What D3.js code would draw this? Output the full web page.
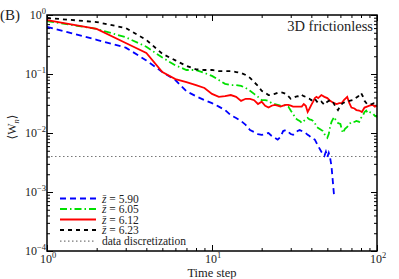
<!DOCTYPE html>
<html>
<head>
<meta charset="utf-8">
<script src="https://cdn.jsdelivr.net/npm/d3@7"></script>
<style>
  body { margin: 0; background: #fff; }
  text { font-family: "Liberation Serif", "DejaVu Serif", serif; fill: #222; }
</style>
</head>
<body>
<div id="chart"></div>
<script>
// time steps and mean values <W_n>
var blueT = [1,2,3,4,5,6,7,8,9,10,11,12,13,14,15,16,17,18,19,20,21,22,23,24,25,26,27,28,29,30,31,32,33,34,35,36,37,38,39,40,42,44,46,48,49,50,51,52,53,54,55];
var blueV = [0.63,0.38,0.28,0.17,0.108,0.079,0.051,0.042,0.036,0.032,0.028,0.0245,0.020,0.018,0.016,0.0137,0.0112,0.0104,0.0096,0.0093,0.0096,0.0100,0.0089,0.0083,0.0077,0.0086,0.0108,0.0112,0.0104,0.0096,0.0093,0.0100,0.0108,0.0112,0.0108,0.0104,0.0100,0.0093,0.0089,0.0083,0.0077,0.0060,0.0048,0.0041,0.0048,0.0039,0.0046,0.0038,0.0027,0.0015,0.00083];

var greenT = [1,2,3,4,5,6,7,8,9,10,11,12,13,14,15,16,17,18,19,20,21,22,23,24,25,26,27,28,29,30,31,32,33,34,35,36,37,38,39,40,41,42,43,44,46,47,48,50,51,52,53,55,56,58,60,62,64,66,68,70,73,75,78,80,82,84,86,88,90,93,95,97,100];
var greenV = [0.79,0.58,0.42,0.29,0.19,0.14,0.117,0.117,0.104,0.093,0.079,0.068,0.065,0.065,0.063,0.058,0.052,0.046,0.041,0.036,0.036,0.035,0.032,0.031,0.030,0.029,0.030,0.029,0.028,0.024,0.021,0.018,0.0167,0.016,0.0148,0.016,0.017,0.018,0.017,0.0167,0.016,0.0148,0.0127,0.0122,0.0112,0.0108,0.0096,0.0083,0.0096,0.0127,0.0154,0.0187,0.017,0.0148,0.0142,0.0100,0.0118,0.0127,0.0142,0.0154,0.0154,0.016,0.0154,0.018,0.0195,0.0227,0.024,0.0218,0.0227,0.0218,0.021,0.0195,0.0187];

var redT = [1,2,3,4,5,6,7,8,9,10,11,12,13,14,15,16,17,18,19,20,21,22,23,24,25,26,27,28,29,30,31,32,33,34,35,36,37,38,39,40,41,42,43,44,46,48,50,52,55,57,59,61,63,66,68,70,73,75,78,81,84,87,90,94,97,100];
var redV = [0.82,0.58,0.335,0.227,0.108,0.082,0.073,0.065,0.058,0.046,0.041,0.042,0.044,0.041,0.035,0.038,0.038,0.036,0.031,0.034,0.029,0.027,0.029,0.030,0.029,0.028,0.029,0.030,0.030,0.029,0.028,0.028,0.028,0.028,0.028,0.031,0.029,0.0227,0.026,0.030,0.034,0.039,0.041,0.039,0.044,0.041,0.039,0.035,0.032,0.031,0.032,0.032,0.036,0.041,0.032,0.027,0.026,0.0245,0.024,0.0227,0.027,0.028,0.029,0.030,0.028,0.029];

var blackT = [1,2,3,4,5,6,7,8,9,10,11,12,13,14,15,16,17,18,19,20,21,22,23,24,25,26,27,28,29,30,31,32,33,34,35,36,37,38,39,40,41,42,44,46,48,50,52,54,56,58,60,62,65,68,71,74,77,80,82,84,87,90,93,96,100];
var blackV = [0.89,0.76,0.60,0.377,0.22,0.17,0.137,0.12,0.117,0.117,0.112,0.112,0.112,0.108,0.104,0.096,0.086,0.073,0.063,0.052,0.048,0.044,0.044,0.046,0.048,0.049,0.048,0.046,0.042,0.038,0.039,0.041,0.042,0.041,0.044,0.042,0.041,0.039,0.038,0.036,0.039,0.038,0.032,0.034,0.030,0.034,0.036,0.034,0.028,0.0245,0.029,0.032,0.034,0.035,0.036,0.039,0.042,0.048,0.042,0.035,0.031,0.030,0.031,0.032,0.032];

var discretization = 0.004;

var seriesNames = ["5.90", "6.05", "6.12", "6.23"];
var xTicks = [1, 10, 100];
var xTickExp = ["0", "1", "2"];
var yTicks = [1e-4, 1e-3, 1e-2, 1e-1, 1];
var yTickExp = ["\u22124", "\u22123", "\u22122", "\u22121", "0"];

var chartW = 399, chartH = 279;
var plotL = 47, plotR = 377, plotT = 15, plotB = 251;

var svg = d3.select("#chart").append("svg")
    .attr("width", chartW)
    .attr("height", chartH);

var x = d3.scaleLog().domain([1, 100]).range([plotL, plotR]);
var y = d3.scaleLog().domain([1e-4, 1]).range([plotB, plotT]);

// minor ticks 2..9 in each decade
var xMinor = [], yMinor = [];
[1, 10].forEach(function(d) { for (var k = 2; k < 10; k++) xMinor.push(d * k); });
[1e-4, 1e-3, 1e-2, 1e-1].forEach(function(d) { for (var k = 2; k < 10; k++) yMinor.push(d * k); });

function addAxis(axisFn, scale, vals, size, tr) {
    svg.append("g")
        .attr("transform", tr)
        .call(axisFn(scale).tickValues(vals).tickSize(size).tickFormat(""))
        .call(function(g) { g.select(".domain").remove(); })
        .selectAll("line").attr("stroke", "#000").attr("stroke-width", 1);
}
addAxis(d3.axisBottom, x, xTicks, -6, "translate(0," + plotB + ")");
addAxis(d3.axisBottom, x, xMinor, -3, "translate(0," + plotB + ")");
addAxis(d3.axisTop, x, xTicks, -6, "translate(0," + plotT + ")");
addAxis(d3.axisTop, x, xMinor, -3, "translate(0," + plotT + ")");
addAxis(d3.axisLeft, y, yTicks, -6, "translate(" + plotL + ",0)");
addAxis(d3.axisLeft, y, yMinor, -3, "translate(" + plotL + ",0)");
addAxis(d3.axisRight, y, yTicks, -6, "translate(" + plotR + ",0)");
addAxis(d3.axisRight, y, yMinor, -3, "translate(" + plotR + ",0)");

// tick labels with superscripts
xTicks.forEach(function(t, i) {
    var tx = svg.append("text")
        .attr("x", x(t) + 1)
        .attr("y", 263)
        .attr("text-anchor", "middle")
        .style("font-size", "12px");
    tx.append("tspan").text("10");
    tx.append("tspan").attr("dy", -5).style("font-size", "8.5px").text(xTickExp[i]);
});
yTicks.forEach(function(t, i) {
    var ty = svg.append("text")
        .attr("x", plotL - 1)
        .attr("y", y(t) + 4)
        .attr("text-anchor", "end")
        .style("font-size", "12px");
    ty.append("tspan").text("10");
    ty.append("tspan").attr("dy", -5).style("font-size", "8.5px").text(yTickExp[i]);
});

// dotted data discretization line
svg.append("line")
    .attr("x1", plotL).attr("x2", plotR)
    .attr("y1", y(discretization)).attr("y2", y(discretization))
    .attr("stroke", "#777").attr("stroke-width", 1.2)
    .attr("stroke-dasharray", "1.5,2.5");

var styles = [
    { color: "#0000ff", dash: "6,4" },
    { color: "#00e000", dash: "7,3,1.5,3" },
    { color: "#ff0000", dash: null },
    { color: "#000000", dash: "4,4" }
];
var series = [
    { t: blueT, v: blueV },
    { t: greenT, v: greenV },
    { t: redT, v: redV },
    { t: blackT, v: blackV }
];

var line = d3.line()
    .x(function(d) { return x(d[0]); })
    .y(function(d) { return y(d[1]); });

series.forEach(function(s, i) {
    var pts = s.t.map(function(t, j) { return [t, s.v[j]]; });
    svg.append("path")
        .attr("d", line(pts))
        .attr("fill", "none")
        .attr("stroke", styles[i].color)
        .attr("stroke-width", 1.8)
        .attr("stroke-dasharray", styles[i].dash);
});

// frame
svg.append("rect")
    .attr("x", plotL).attr("y", plotT)
    .attr("width", plotR - plotL).attr("height", plotB - plotT)
    .attr("fill", "none").attr("stroke", "#000").attr("stroke-width", 1.5);

// legend
var legY = [198.5, 209, 219.5, 230, 241.2];
seriesNames.forEach(function(name, i) {
    svg.append("line")
        .attr("x1", 60).attr("x2", 96)
        .attr("y1", legY[i]).attr("y2", legY[i])
        .attr("stroke", styles[i].color)
        .attr("stroke-width", 1.8)
        .attr("stroke-dasharray", styles[i].dash);
    var lt = svg.append("text")
        .attr("x", 102).attr("y", legY[i] + 4)
        .style("font-size", "11.5px");
    lt.append("tspan").style("font-style", "italic").text("z\u0304");
    lt.append("tspan").text(" = " + name);
});
svg.append("line")
    .attr("x1", 60).attr("x2", 96)
    .attr("y1", legY[4]).attr("y2", legY[4])
    .attr("stroke", "#777").attr("stroke-width", 1.2)
    .attr("stroke-dasharray", "1.5,2.5");
svg.append("text")
    .attr("x", 102).attr("y", legY[4] + 4)
    .style("font-size", "11.5px")
    .text("data discretization");

// titles and labels
svg.append("text")
    .attr("x", 0).attr("y", 20)
    .style("font-size", "15px")
    .text("(B)");
svg.append("text")
    .attr("x", 373).attr("y", 31)
    .attr("text-anchor", "end")
    .style("font-size", "14.5px")
    .text("3D frictionless");
svg.append("text")
    .attr("x", 212).attr("y", 277)
    .attr("text-anchor", "middle")
    .style("font-size", "12.5px")
    .text("Time step");
var yl = svg.append("text")
    .attr("transform", "translate(16,127) rotate(-90)")
    .attr("text-anchor", "middle")
    .style("font-size", "12px");
yl.append("tspan").text("\u27E8W");
yl.append("tspan").attr("dy", 3).style("font-size", "8.5px").style("font-style", "italic").text("n");
yl.append("tspan").attr("dy", -3).text("\u27E9");
</script>
</body>
</html>
